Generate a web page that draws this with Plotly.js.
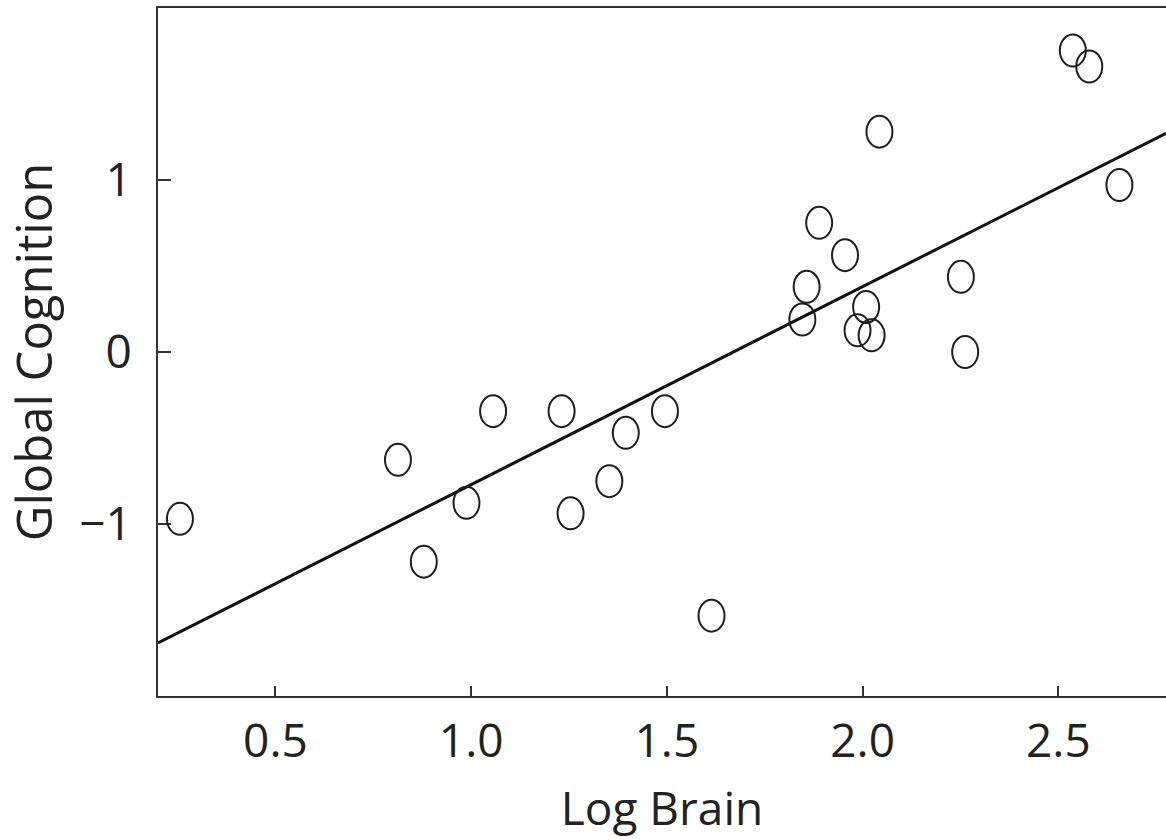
<!DOCTYPE html>
<html>
<head>
<meta charset="utf-8">
<script src="https://cdn.plot.ly/plotly-3.0.1.min.js"></script>
<style>html,body{margin:0;padding:0;background:#fff;}#chart{width:1166px;height:840px;}</style>
</head>
<body>
<div id="chart"></div>
<script>
// Data
const logBrain = [0.256, 0.813, 0.879, 0.988, 1.056, 1.231, 1.254, 1.353, 1.395, 1.495,
                  1.614, 1.846, 1.857, 1.889, 1.955, 1.987, 2.009, 2.023, 2.043, 2.251,
                  2.262, 2.537, 2.579, 2.656];
const globalCognition = [-0.970, -0.627, -1.219, -0.877, -0.344, -0.344, -0.938, -0.751, -0.470, -0.344,
                         -1.533, 0.189, 0.379, 0.751, 0.563, 0.126, 0.262, 0.097, 1.281, 0.437,
                         0.000, 1.753, 1.660, 0.971];
// Regression line end points
const fitX = [0.2, 2.775];
const fitY = [-1.692, 1.272];
const xTicks = [0.5, 1.0, 1.5, 2.0, 2.5];
const xTickLabels = ["0.5", "1.0", "1.5", "2.0", "2.5"];
const yTicks = [-1, 0, 1];
const yTickLabels = ["\u22121", "0", "1"];

const FONT = '"Open Sans", "Noto Sans", sans-serif';
const TXT = '#222';
const AX = '#333';

const traces = [
  {
    x: fitX, y: fitY, type: 'scatter', mode: 'lines',
    line: {color: '#111', width: 3}, hoverinfo: 'skip', showlegend: false
  },
  {
    x: logBrain, y: globalCognition, type: 'scatter', mode: 'markers',
    marker: {size: 28, opacity: 0}, showlegend: false,
    hovertemplate: 'Log Brain: %{x}<br>Global Cognition: %{y}<extra></extra>'
  }
];

// elliptical open markers anchored at the data values (pixel-sized)
const shapes = logBrain.map((xv, i) => ({
  type: 'circle', xref: 'x', yref: 'y',
  xsizemode: 'pixel', ysizemode: 'pixel',
  xanchor: xv, yanchor: globalCognition[i],
  x0: -13, x1: 13, y0: -16, y1: 16,
  line: {color: '#1e1e1e', width: 2}, fillcolor: 'rgba(0,0,0,0)', layer: 'above'
}));

const layout = {
  width: 1166, height: 840,
  margin: {l: 158, r: 0, t: 8, b: 144, pad: 0},
  paper_bgcolor: '#fff', plot_bgcolor: '#fff',
  font: {family: FONT, color: TXT, size: 46},
  showlegend: false,
  shapes: shapes,
  xaxis: {
    range: [0.2, 2.775], autorange: false,
    tickmode: 'array', tickvals: xTicks, ticktext: xTickLabels,
    ticks: 'inside', ticklen: 10, tickwidth: 2, tickcolor: AX,
    showline: true, linecolor: AX, linewidth: 2, mirror: true,
    showgrid: false, zeroline: false,
    tickfont: {family: FONT, size: 46, color: TXT},
    ticklabelstandoff: 4,
    title: {text: 'Log Brain', font: {family: FONT, size: 46, color: TXT}, standoff: 24},
    automargin: false
  },
  yaxis: {
    range: [-2.0, 2.0], autorange: false,
    tickmode: 'array', tickvals: yTicks, ticktext: yTickLabels,
    ticks: 'inside', ticklen: 13, tickwidth: 2, tickcolor: AX,
    showline: true, linecolor: AX, linewidth: 2, mirror: false,
    showgrid: false, zeroline: false,
    tickfont: {family: FONT, size: 46, color: TXT},
    ticklabelstandoff: 15,
    title: {text: 'Global Cognition', font: {family: FONT, size: 49, color: TXT}, standoff: 21},
    automargin: false
  }
};

Plotly.newPlot('chart', traces, layout, {displayModeBar: false, staticPlot: false});
</script>
</body>
</html>
